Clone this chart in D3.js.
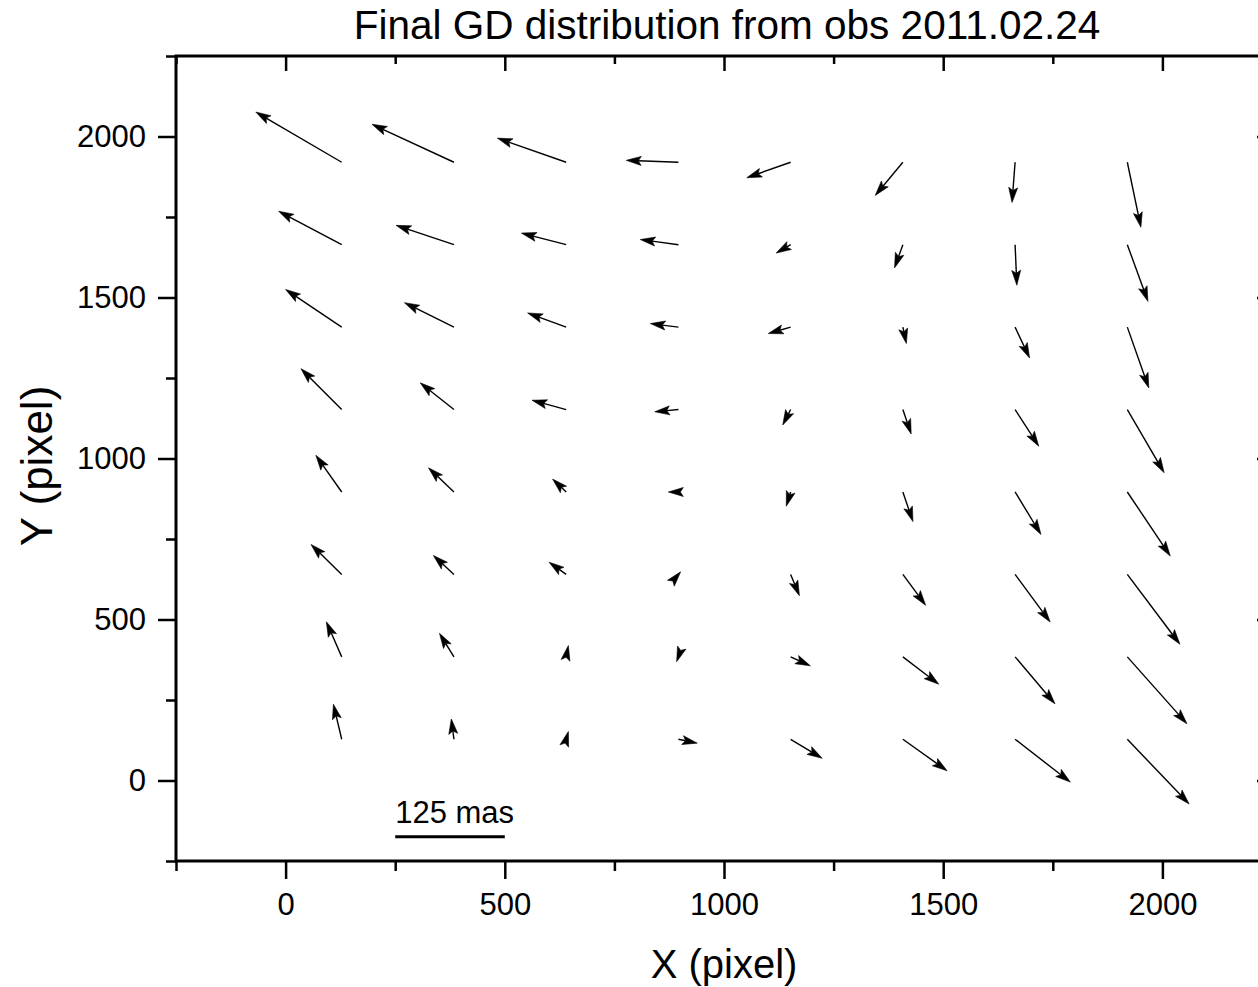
<!DOCTYPE html>
<html>
<head>
<meta charset="utf-8">
<script src="https://cdn.jsdelivr.net/npm/d3@7"></script>
<style>
  html, body { margin: 0; padding: 0; background: #fff; }
  svg { display: block; font-family: "Liberation Sans", Arial, sans-serif; }
</style>
</head>
<body>
<div id="chart"></div>
<script>
// Grid positions of the vector tails (detector pixels)
const gridX = [128, 384, 640, 896, 1152, 1408, 1664, 1920];
const gridY = [128, 384, 640, 896, 1152, 1408, 1664, 1920];

// Vector offsets (tail -> head) in axis units, one row per gridY value (bottom to top)
const offsetX = [
  [-19, -6, 5, 43, 72, 101, 126, 141],
  [-35, -33, 5, -4, 45, 82, 91, 136],
  [-70, -47, -39, 5, 20, 52, 80, 120],
  [-59, -58, -31, -23, -10, 23, 59, 98],
  [-93, -77, -78, -54, -18, 19, 54, 84],
  [-128, -113, -88, -64, -51, 8, 33, 49],
  [-144, -132, -102, -87, -33, -19, 4, 47],
  [-196, -187, -157, -119, -100, -63, -7, 31]
];
const offsetY = [
  [109, 63, 24, -12, -59, -98, -133, -201],
  [109, 73, 35, -15, -28, -85, -146, -208],
  [93, 59, 38, 8, -66, -96, -148, -217],
  [114, 75, 40, 0, -44, -92, -132, -199],
  [127, 83, 29, -7, -48, -76, -114, -196],
  [117, 76, 44, 11, -20, -51, -96, -189],
  [104, 60, 36, 16, -26, -72, -126, -176],
  [156, 118, 75, 6, -48, -103, -125, -202]
];

const majorTicks = [0, 500, 1000, 1500, 2000];
const minorTicks = [-250, 250, 750, 1250, 1750, 2250];

// scale bar: 125 mas drawn from x=250 to x=500
const scaleBar = { x1: 250, x2: 500, y: -175, label: '125 mas' };

const titleText = 'Final GD distribution from obs 2011.02.24';
const xLabel = 'X (pixel)';
const yLabel = 'Y (pixel)';

const width = 1258, height = 987;
const plotLeft = 176, plotRight = 1272, plotTop = 56, plotBottom = 861;

const x = d3.scaleLinear().domain([-250, 2250]).range([plotLeft, plotRight]);
const y = d3.scaleLinear().domain([-250, 2250]).range([plotBottom, plotTop]);

const svg = d3.select('#chart').append('svg')
  .attr('width', width).attr('height', height);

svg.append('rect').attr('width', width).attr('height', height).attr('fill', '#fff');

// --- axes ---
function styleAxis(g, fontSize) {
  g.select('.domain').remove();
  g.selectAll('line').attr('stroke', '#000').attr('stroke-width', 2.5);
  g.selectAll('text').attr('font-size', fontSize)
    .attr('font-family', '"Liberation Sans", Arial, sans-serif').attr('fill', '#000');
}

// bottom (outward)
svg.append('g').attr('transform', `translate(0,${plotBottom})`)
  .call(d3.axisBottom(x).tickValues(majorTicks).tickSize(18).tickPadding(14).tickFormat(d3.format('d')))
  .call(g => styleAxis(g, 31));
svg.append('g').attr('transform', `translate(0,${plotBottom})`)
  .call(d3.axisBottom(x).tickValues(minorTicks).tickSize(10).tickFormat(''))
  .call(g => styleAxis(g, 0));

// left (outward)
svg.append('g').attr('transform', `translate(${plotLeft},0)`)
  .call(d3.axisLeft(y).tickValues(majorTicks).tickSize(18).tickPadding(12).tickFormat(d3.format('d')))
  .call(g => styleAxis(g, 31));
svg.append('g').attr('transform', `translate(${plotLeft},0)`)
  .call(d3.axisLeft(y).tickValues(minorTicks).tickSize(10).tickFormat(''))
  .call(g => styleAxis(g, 0));

// top (inward)
svg.append('g').attr('transform', `translate(0,${plotTop})`)
  .call(d3.axisBottom(x).tickValues(majorTicks).tickSize(15).tickFormat(''))
  .call(g => styleAxis(g, 0));
svg.append('g').attr('transform', `translate(0,${plotTop})`)
  .call(d3.axisBottom(x).tickValues(minorTicks).tickSize(8).tickFormat(''))
  .call(g => styleAxis(g, 0));

// right (inward)
svg.append('g').attr('transform', `translate(${plotRight},0)`)
  .call(d3.axisLeft(y).tickValues(majorTicks).tickSize(15).tickFormat(''))
  .call(g => styleAxis(g, 0));
svg.append('g').attr('transform', `translate(${plotRight},0)`)
  .call(d3.axisLeft(y).tickValues(minorTicks).tickSize(8).tickFormat(''))
  .call(g => styleAxis(g, 0));

// frame
svg.append('rect')
  .attr('x', plotLeft).attr('y', plotTop)
  .attr('width', plotRight - plotLeft).attr('height', plotBottom - plotTop)
  .attr('fill', 'none').attr('stroke', '#000').attr('stroke-width', 3);

// --- vectors ---
const vectors = [];
gridY.forEach((gy, j) => {
  gridX.forEach((gx, i) => {
    vectors.push({ x0: gx, y0: gy, x1: gx + offsetX[j][i], y1: gy + offsetY[j][i] });
  });
});

const headLen = 15, headHalf = 4.5;
const arrows = svg.append('g');

vectors.forEach(v => {
  const sx = x(v.x0), sy = y(v.y0);
  const ex = x(v.x1), ey = y(v.y1);
  const dx = ex - sx, dy = ey - sy;
  const len = Math.hypot(dx, dy) || 1;
  const ux = dx / len, uy = dy / len;
  const nx = -uy, ny = ux;

  // shaft
  const bx = ex - ux * headLen * 0.8, by = ey - uy * headLen * 0.8;
  if (len > headLen * 0.8) {
    arrows.append('line')
      .attr('x1', sx).attr('y1', sy)
      .attr('x2', bx).attr('y2', by)
      .attr('stroke', '#000').attr('stroke-width', 1.4);
  }

  // head
  const pts = [
    [ex, ey],
    [ex - ux * headLen + nx * headHalf, ey - uy * headLen + ny * headHalf],
    [bx, by],
    [ex - ux * headLen - nx * headHalf, ey - uy * headLen - ny * headHalf]
  ];
  arrows.append('path')
    .attr('d', 'M' + pts.map(p => p.join(',')).join('L') + 'Z')
    .attr('fill', '#000').attr('stroke', '#000').attr('stroke-width', 0.6);
});

// --- scale bar ---
svg.append('line')
  .attr('x1', x(scaleBar.x1)).attr('x2', x(scaleBar.x2))
  .attr('y1', y(scaleBar.y)).attr('y2', y(scaleBar.y))
  .attr('stroke', '#000').attr('stroke-width', 3);
svg.append('text')
  .attr('x', x(scaleBar.x1)).attr('y', y(scaleBar.y) - 14)
  .attr('font-size', 31).attr('fill', '#000')
  .text(scaleBar.label);

// --- titles ---
svg.append('text')
  .attr('x', (plotLeft + plotRight) / 2 + 3).attr('y', 39)
  .attr('text-anchor', 'middle').attr('font-size', 40.5).attr('fill', '#000')
  .text(titleText);

svg.append('text')
  .attr('x', (plotLeft + plotRight) / 2).attr('y', 978)
  .attr('text-anchor', 'middle').attr('font-size', 40).attr('fill', '#000')
  .text(xLabel);

svg.append('text')
  .attr('transform', `translate(52,466) rotate(-90)`)
  .attr('text-anchor', 'middle').attr('font-size', 44).attr('fill', '#000')
  .text(yLabel);
</script>
</body>
</html>
